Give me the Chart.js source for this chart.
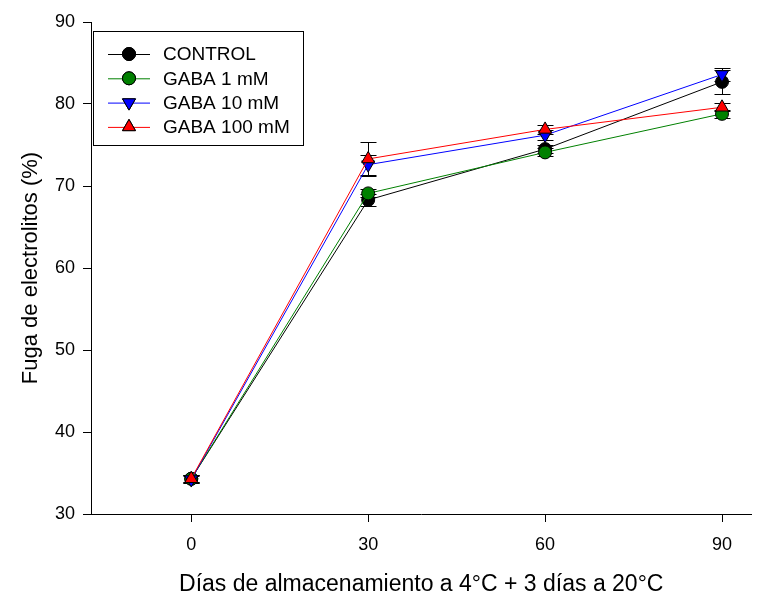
<!DOCTYPE html>
<html lang="es">
<head>
<meta charset="UTF-8">
<title>Fuga de electrolitos</title>
<script src="https://cdn.jsdelivr.net/npm/chart.js"></script>
<style>
    html, body { margin: 0; padding: 0; background: #fff; }
    #wrap { width: 760px; height: 592px; }
</style>
</head>
<body>
<div id="wrap"><canvas id="c" width="760" height="592"></canvas></div>
<script>
const days = [0, 30, 60, 90];
const seriesNames = ['CONTROL', 'GABA 1 mM', 'GABA 10 mM', 'GABA 100 mM'];
const control = [34.3, 68.3, 74.5, 82.7];
const gaba1 = [34.3, 69.1, 74.1, 78.8];
const gaba10 = [34.2, 72.6, 76.2, 83.6];
const gaba100 = [34.3, 73.3, 76.9, 79.6];
const controlErr = [0.5, 0.7, 0.5, 1.5];
const gaba1Err = [0.4, 0.5, 0.5, 0.5];
const gaba10Err = [0.4, 1.2, 0.6, 0.8];
const gaba100Err = [0.4, 2.1, 0.5, 0.5];
const xTicks = [0, 30, 60, 90];
const yTicks = [30, 40, 50, 60, 70, 80, 90];

const FONT = 'Liberation Sans, Arial, sans-serif';

function makeSet(label, values, errs, color, fill, style, rot, order) {
    return {
        label: label,
        data: days.map((d, i) => ({ x: d, y: values[i], err: errs[i] })),
        borderColor: color,
        borderWidth: 1,
        pointBackgroundColor: fill,
        pointBorderColor: '#000',
        pointBorderWidth: 1,
        pointStyle: style,
        pointRotation: rot,
        pointRadius: style === 'circle' ? 6.5 : 7.5,
        pointHoverRadius: style === 'circle' ? 6.5 : 7.5,
        tension: 0,
        order: order
    };
}

const errorBars = {
    id: 'errorBars',
    beforeDatasetsDraw(chart) {
        const ctx = chart.ctx;
        const xs = chart.scales.x, ys = chart.scales.y;
        ctx.save();
        ctx.strokeStyle = '#000';
        ctx.lineWidth = 1;
        chart.data.datasets.forEach(ds => {
            ds.data.forEach(p => {
                const px = Math.round(xs.getPixelForValue(p.x)) + 0.5;
                const top = Math.round(ys.getPixelForValue(p.y + p.err)) + 0.5;
                const bot = Math.round(ys.getPixelForValue(p.y - p.err)) + 0.5;
                ctx.beginPath();
                ctx.moveTo(px, top); ctx.lineTo(px, bot);
                ctx.moveTo(px - 8, top); ctx.lineTo(px + 8, top);
                ctx.moveTo(px - 8, bot); ctx.lineTo(px + 8, bot);
                ctx.stroke();
            });
        });
        ctx.restore();
    }
};

const boxLegend = {
    id: 'boxLegend',
    afterDraw(chart) {
        const ctx = chart.ctx;
        ctx.save();
        ctx.strokeStyle = '#000';
        ctx.lineWidth = 1;
        ctx.strokeRect(93.5, 31.5, 210, 114);
        ctx.font = '19px ' + FONT;
        ctx.textBaseline = 'middle';
        ctx.fillStyle = '#000';
        chart.data.datasets.forEach((ds, i) => {
            const y = 54 + i * 24.3;
            ctx.strokeStyle = ds.borderColor;
            ctx.beginPath();
            ctx.moveTo(108, y + 0.5); ctx.lineTo(150, y + 0.5);
            ctx.stroke();
            ctx.fillStyle = ds.pointBackgroundColor;
            ctx.strokeStyle = '#000';
            Chart.helpers.drawPoint(ctx, {
                pointStyle: ds.pointStyle,
                rotation: ds.pointRotation,
                radius: ds.pointRadius,
                borderWidth: 1
            }, 129, y);
            ctx.fill();
            ctx.stroke();
            ctx.fillStyle = '#000';
            ctx.fillText(ds.label, 163, y + 1);
        });
        ctx.restore();
    }
};

new Chart(document.getElementById('c'), {
    type: 'line',
    data: {
        datasets: [
            makeSet(seriesNames[0], control, controlErr, '#000000', '#000000', 'circle', 0, 4),
            makeSet(seriesNames[1], gaba1, gaba1Err, '#008000', '#008000', 'circle', 0, 3),
            makeSet(seriesNames[2], gaba10, gaba10Err, '#0000ff', '#0000ff', 'triangle', 180, 2),
            makeSet(seriesNames[3], gaba100, gaba100Err, '#ff0000', '#ff0000', 'triangle', 0, 1)
        ]
    },
    options: {
        responsive: false,
        animation: false,
        events: [],
        layout: { padding: { top: 22, right: 2, left: 14, bottom: 0 } },
        plugins: { legend: { display: false }, tooltip: { enabled: false } },
        scales: {
            x: {
                type: 'linear',
                min: -17,
                max: 95,
                afterBuildTicks: s => { s.ticks = xTicks.map(v => ({ value: v })); },
                afterFit: s => { s.height = 78; },
                grid: { drawOnChartArea: false, drawTicks: true, tickLength: 8, color: '#000' },
                border: { color: '#000', width: 1 },
                ticks: { color: '#000', font: { family: FONT, size: 18 }, padding: 12, maxRotation: 0 },
                title: {
                    display: true,
                    text: 'Días de almacenamiento a 4°C + 3 días a 20°C',
                    color: '#000',
                    font: { family: FONT, size: 23 },
                    padding: { top: 16, bottom: -6 }
                }
            },
            y: {
                min: 30,
                max: 90,
                afterBuildTicks: s => { s.ticks = yTicks.map(v => ({ value: v })); },
                afterFit: s => { s.width = 77; },
                grid: { drawOnChartArea: false, drawTicks: true, tickLength: 8, color: '#000' },
                border: { color: '#000', width: 1 },
                ticks: { color: '#000', font: { family: FONT, size: 18 }, padding: 8 },
                title: {
                    display: true,
                    text: 'Fuga de electrolitos (%)',
                    color: '#000',
                    font: { family: FONT, size: 22 },
                    padding: { bottom: 6 }
                }
            }
        }
    },
    plugins: [errorBars, boxLegend]
});
</script>
</body>
</html>
